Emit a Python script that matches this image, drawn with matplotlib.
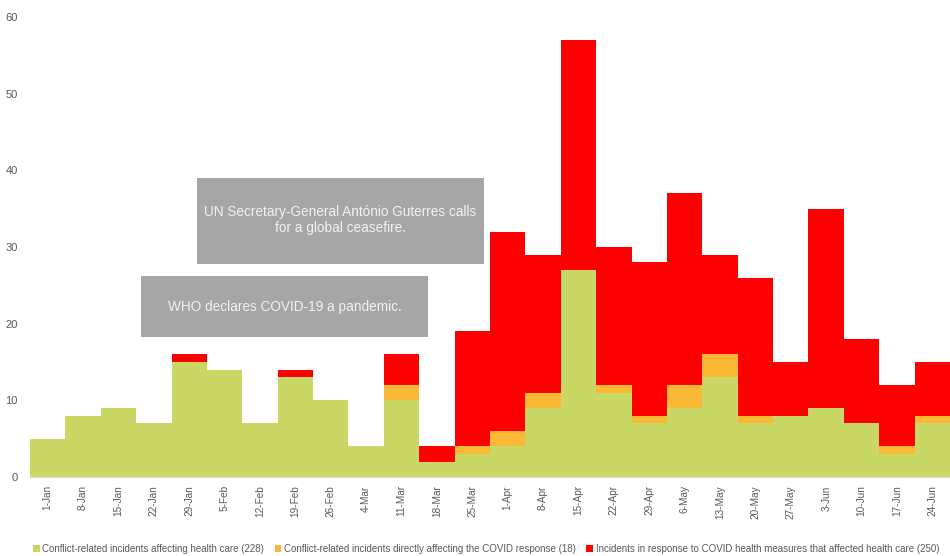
import matplotlib
matplotlib.use("Agg")
import matplotlib.pyplot as plt
from matplotlib.patches import Rectangle, Patch
import numpy as np

plt.rcParams['font.family'] = ['Liberation Sans', 'DejaVu Sans']

weeks = ["1-Jan", "8-Jan", "15-Jan", "22-Jan", "29-Jan", "5-Feb", "12-Feb", "19-Feb",
         "26-Feb", "4-Mar", "11-Mar", "18-Mar", "25-Mar", "1-Apr", "8-Apr", "15-Apr",
         "22-Apr", "29-Apr", "6-May", "13-May", "20-May", "27-May", "3-Jun", "10-Jun",
         "17-Jun", "24-Jun"]
conflict = [5, 8, 9, 7, 15, 14, 7, 13, 10, 4, 10, 2, 3, 4, 9, 27, 11, 7, 9, 13, 7, 8, 9, 7, 3, 7]
conflict_covid = [0, 0, 0, 0, 0, 0, 0, 0, 0, 0, 2, 0, 1, 2, 2, 0, 1, 1, 3, 3, 1, 0, 0, 0, 1, 1]
covid_measures = [0, 0, 0, 0, 1, 0, 0, 1, 0, 0, 4, 2, 15, 26, 18, 30, 18, 20, 25, 13, 18, 7, 26, 11, 8, 7]
series_labels = ["Conflict-related incidents affecting health care (228)",
                 "Conflict-related incidents directly affecting the COVID response (18)",
                 "Incidents in response to COVID health measures that affected health care (250)"]
colors = ["#c9d865", "#f9b935", "#ff0000"]
yticks = [0, 10, 20, 30, 40, 50, 60]

fig = plt.figure(figsize=(9.5, 5.56), dpi=100)
ax = fig.add_axes([30/950, 79/556, 920/950, 460/556])

x = np.arange(len(weeks))
bottom = np.zeros(len(weeks))
for vals, c in zip([conflict, conflict_covid, covid_measures], colors):
    v = np.array(vals, dtype=float)
    ax.bar(x, v, width=1.0, bottom=bottom, color=c, edgecolor='none', linewidth=0, zorder=2)
    bottom += v

ax.set_xlim(-0.5, len(weeks) - 0.5)
ax.set_ylim(0, 60)
ax.set_yticks(yticks)
ax.set_yticklabels([str(t) for t in yticks], fontsize=8, color='#595959')
ax.set_xticks(x)
ax.set_xticklabels(weeks, rotation=90, fontsize=7.2, color='#595959')
ax.tick_params(axis='both', length=0)
ax.tick_params(axis='y', pad=9)
ax.tick_params(axis='x', pad=6)
for s in ['top', 'right', 'left']:
    ax.spines[s].set_visible(False)
ax.spines['bottom'].set_color('#d9d9d9')
ax.spines['bottom'].set_linewidth(0.8)

# annotation boxes
box_col = '#a6a6a6'
ax.add_patch(Rectangle((4.22, 27.8), 12.32 - 4.22, 39.0 - 27.8, facecolor=box_col,
                       edgecolor='none', zorder=3))
ax.text((4.22 + 12.32) / 2, (27.8 + 39.0) / 2 + 0.1,
        "UN Secretary-General António Guterres calls\nfor a global ceasefire.",
        ha='center', va='center', fontsize=9.8, color='#f2f2f2', zorder=4, linespacing=1.15)
ax.add_patch(Rectangle((2.64, 18.25), 10.74 - 2.64, 26.2 - 18.25, facecolor=box_col,
                       edgecolor='none', zorder=3))
ax.text((2.64 + 10.74) / 2, (18.25 + 26.2) / 2, "WHO declares COVID-19 a pandemic.",
        ha='center', va='center', fontsize=9.8, color='#f2f2f2', zorder=4)

handles = [Patch(facecolor=c, edgecolor='none') for c in colors]
leg = fig.legend(handles, series_labels, loc='center', bbox_to_anchor=(486/950, 1 - 549/556),
                 ncol=3, frameon=False, fontsize=7,
                 handlelength=0.7, handleheight=0.7,
                 handletextpad=0.25, columnspacing=1.1, borderaxespad=0)
for t in leg.get_texts():
    t.set_color('#595959')

fig.savefig("out.png", dpi=100)
